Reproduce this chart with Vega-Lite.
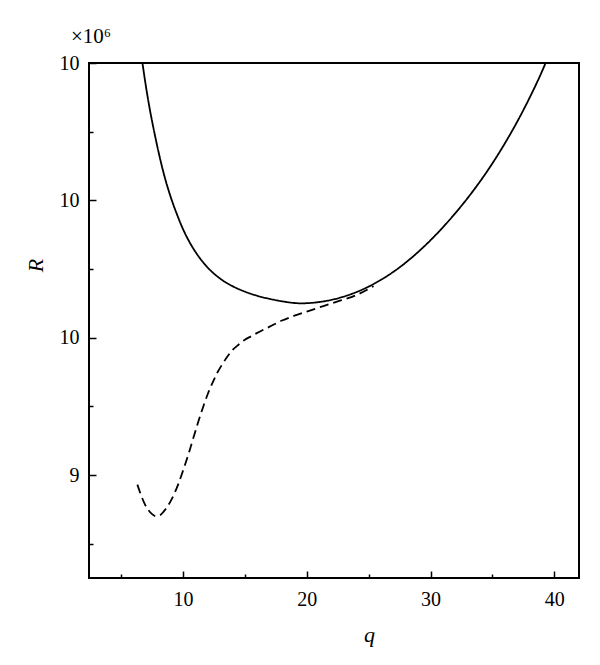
{
  "$schema": "https://vega.github.io/schema/vega-lite/v6.json",
  "width": 490,
  "height": 515,
  "autosize": {"type": "none"},
  "padding": {"left": 89, "top": 63, "right": 21, "bottom": 87},
  "background": "white",
  "title": {"text": "×10⁶", "anchor": "start", "frame": "group", "dx": -18, "offset": 6, "font": "Liberation Serif", "fontSize": 21, "fontWeight": "normal", "color": "black"},
  "config": {
    "title": {"font": "Liberation Serif", "fontSize": 21, "fontWeight": "normal", "color": "black"},
    "view": {"stroke": "black", "strokeWidth": 2},
    "axis": {
      "domain": false,
      "grid": false,
      "tickColor": "black",
      "tickWidth": 1.5,
      "labelColor": "black",
      "labelFont": "Liberation Serif",
      "labelFontSize": 20,
      "titleColor": "black",
      "titleFont": "Liberation Serif",
      "titleFontStyle": "italic",
      "titleFontWeight": "normal",
      "titleFontSize": 22
    }
  },
  "data": {
    "values": [
      {"series": "solid", "q": 6.72, "R": 10.0},
      {"series": "solid", "q": 7.0, "R": 9.966},
      {"series": "solid", "q": 7.3, "R": 9.934},
      {"series": "solid", "q": 7.6, "R": 9.906},
      {"series": "solid", "q": 8.0, "R": 9.872},
      {"series": "solid", "q": 8.5, "R": 9.835},
      {"series": "solid", "q": 9.0, "R": 9.805},
      {"series": "solid", "q": 9.5, "R": 9.78},
      {"series": "solid", "q": 10.0, "R": 9.758},
      {"series": "solid", "q": 10.5, "R": 9.74},
      {"series": "solid", "q": 11.0, "R": 9.725},
      {"series": "solid", "q": 12.0, "R": 9.702},
      {"series": "solid", "q": 13.0, "R": 9.686},
      {"series": "solid", "q": 14.0, "R": 9.675},
      {"series": "solid", "q": 15.0, "R": 9.667},
      {"series": "solid", "q": 16.0, "R": 9.661},
      {"series": "solid", "q": 17.0, "R": 9.6565},
      {"series": "solid", "q": 18.0, "R": 9.653},
      {"series": "solid", "q": 19.0, "R": 9.6505},
      {"series": "solid", "q": 19.5, "R": 9.65},
      {"series": "solid", "q": 20.0, "R": 9.6502},
      {"series": "solid", "q": 21.0, "R": 9.6519},
      {"series": "solid", "q": 22.0, "R": 9.6551},
      {"series": "solid", "q": 23.0, "R": 9.6599},
      {"series": "solid", "q": 24.0, "R": 9.6663},
      {"series": "solid", "q": 25.0, "R": 9.6744},
      {"series": "solid", "q": 26.0, "R": 9.6843},
      {"series": "solid", "q": 27.0, "R": 9.6959},
      {"series": "solid", "q": 28.0, "R": 9.7094},
      {"series": "solid", "q": 29.0, "R": 9.7248},
      {"series": "solid", "q": 30.0, "R": 9.7419},
      {"series": "solid", "q": 31.0, "R": 9.7607},
      {"series": "solid", "q": 32.0, "R": 9.7812},
      {"series": "solid", "q": 33.0, "R": 9.8033},
      {"series": "solid", "q": 34.0, "R": 9.8274},
      {"series": "solid", "q": 35.0, "R": 9.8538},
      {"series": "solid", "q": 36.0, "R": 9.8827},
      {"series": "solid", "q": 37.0, "R": 9.9143},
      {"series": "solid", "q": 38.0, "R": 9.9491},
      {"series": "solid", "q": 39.0, "R": 9.9874},
      {"series": "solid", "q": 39.3, "R": 10.0},
      {"series": "dashed", "q": 6.31, "R": 9.386},
      {"series": "dashed", "q": 6.6, "R": 9.371},
      {"series": "dashed", "q": 6.9, "R": 9.358},
      {"series": "dashed", "q": 7.2, "R": 9.349},
      {"series": "dashed", "q": 7.5, "R": 9.343},
      {"series": "dashed", "q": 7.8, "R": 9.34},
      {"series": "dashed", "q": 8.1, "R": 9.341},
      {"series": "dashed", "q": 8.4, "R": 9.346},
      {"series": "dashed", "q": 8.7, "R": 9.353},
      {"series": "dashed", "q": 9.0, "R": 9.362},
      {"series": "dashed", "q": 9.3, "R": 9.373},
      {"series": "dashed", "q": 9.6, "R": 9.386},
      {"series": "dashed", "q": 9.9, "R": 9.401},
      {"series": "dashed", "q": 10.2, "R": 9.417},
      {"series": "dashed", "q": 10.5, "R": 9.434},
      {"series": "dashed", "q": 10.8, "R": 9.452},
      {"series": "dashed", "q": 11.1, "R": 9.47},
      {"series": "dashed", "q": 11.4, "R": 9.487},
      {"series": "dashed", "q": 11.7, "R": 9.503},
      {"series": "dashed", "q": 12.0, "R": 9.518},
      {"series": "dashed", "q": 12.4, "R": 9.535},
      {"series": "dashed", "q": 12.8, "R": 9.55},
      {"series": "dashed", "q": 13.2, "R": 9.562},
      {"series": "dashed", "q": 13.6, "R": 9.573},
      {"series": "dashed", "q": 14.0, "R": 9.582},
      {"series": "dashed", "q": 14.5, "R": 9.59},
      {"series": "dashed", "q": 15.0, "R": 9.597},
      {"series": "dashed", "q": 15.5, "R": 9.602},
      {"series": "dashed", "q": 16.0, "R": 9.607},
      {"series": "dashed", "q": 17.0, "R": 9.616},
      {"series": "dashed", "q": 18.0, "R": 9.625},
      {"series": "dashed", "q": 19.0, "R": 9.632},
      {"series": "dashed", "q": 20.0, "R": 9.638},
      {"series": "dashed", "q": 21.0, "R": 9.644},
      {"series": "dashed", "q": 22.0, "R": 9.65},
      {"series": "dashed", "q": 23.0, "R": 9.6555},
      {"series": "dashed", "q": 24.0, "R": 9.662},
      {"series": "dashed", "q": 25.0, "R": 9.671},
      {"series": "dashed", "q": 25.4, "R": 9.675}
    ]
  },
  "mark": {"type": "line", "interpolate": "monotone", "color": "black", "strokeWidth": 1.8, "clip": true},
  "encoding": {
    "x": {
      "field": "q",
      "type": "quantitative",
      "scale": {"domain": [2.4, 42], "nice": false, "zero": false},
      "axis": {
        "values": [5, 10, 15, 20, 25, 30, 35, 40],
        "labelExpr": "datum.value % 10 == 0 ? format(datum.value, 'd') : ''",
        "tickSize": {"condition": {"test": "datum.value % 10 == 0", "value": -7}, "value": -4},
        "labelPadding": 18,
        "title": "q",
        "titleX": 280,
        "titleY": 56,
        "titleAlign": "center",
        "titleBaseline": "middle"
      }
    },
    "y": {
      "field": "R",
      "type": "quantitative",
      "scale": {"domain": [9.25, 10.0], "nice": false, "zero": false},
      "axis": {
        "values": [9.3, 9.4, 9.5, 9.6, 9.7, 9.8, 9.9, 10.0],
        "labelExpr": "round(datum.value * 10) % 2 == 0 ? format(datum.value, '.0f') : ''",
        "tickSize": {"condition": {"test": "round(datum.value * 10) % 2 == 0", "value": -7}, "value": -4},
        "labelPadding": 17,
        "title": "R",
        "titleX": -54,
        "titleY": 202,
        "titleAlign": "center",
        "titleBaseline": "middle"
      }
    },
    "detail": {"field": "series", "type": "nominal"},
    "strokeDash": {
      "field": "series",
      "type": "nominal",
      "scale": {"domain": ["solid", "dashed"], "range": [[1, 0], [9, 5]]},
      "legend": null
    }
  }
}
